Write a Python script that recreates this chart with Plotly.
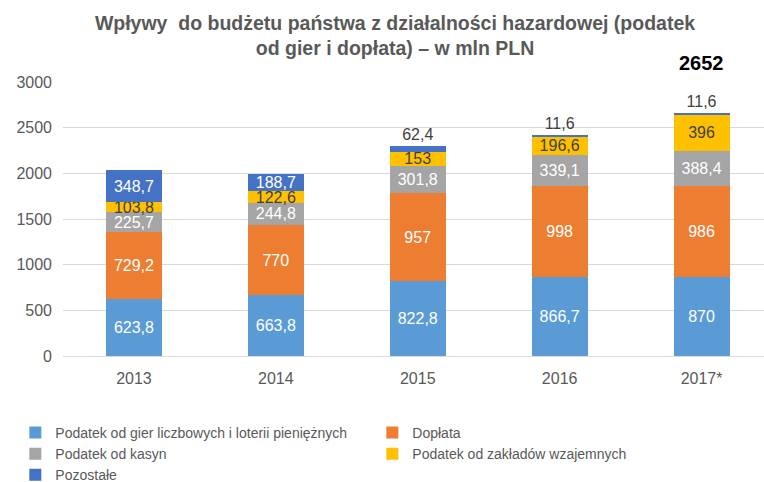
import plotly.graph_objects as go

years = ["2013", "2014", "2015", "2016", "2017*"]
gry_liczbowe = [623.8, 663.8, 822.8, 866.7, 870]
doplata = [729.2, 770, 957, 998, 986]
kasyna = [225.7, 244.8, 301.8, 339.1, 388.4]
zaklady = [103.8, 122.6, 153, 196.6, 396]
pozostale = [348.7, 188.7, 62.4, 11.6, 11.6]
totals = [2031, 1990, 2297, 2411, 2652]

series = [
    ("Podatek od gier liczbowych i loterii pieniężnych", gry_liczbowe, "#5B9BD5"),
    ("Dopłata", doplata, "#ED7D31"),
    ("Podatek od kasyn", kasyna, "#A5A5A5"),
    ("Podatek od zakładów wzajemnych", zaklady, "#FFC000"),
    ("Pozostałe", pozostale, "#4472C4"),
]

FONT = "Liberation Sans, Arial, sans-serif"
GRAY = "#595959"
DARK = "#404040"


def fmt(v):
    return f"{v:g}".replace(".", ",")


fig = go.Figure()
for name, vals, color in series:
    if name == "Pozostałe":
        pos = ["inside" if v > 100 else "outside" for v in vals]
        tcol = ["white" if v > 100 else DARK for v in vals]
    elif name == "Podatek od zakładów wzajemnych":
        pos = ["inside"] * len(vals)
        tcol = [DARK] * len(vals)
    else:
        pos = ["inside"] * len(vals)
        tcol = ["white"] * len(vals)
    fig.add_trace(go.Bar(
        x=years, y=vals, name=name, marker=dict(color=color, line=dict(width=0)),
        text=[fmt(v) for v in vals], textposition=pos, textangle=0,
        insidetextanchor="middle", constraintext="none", cliponaxis=False,
        textfont=dict(family=FONT, size=16, color=tcol),
        showlegend=False,
    ))
    # legend proxy with small square marker
    fig.add_trace(go.Scatter(
        x=[None], y=[None], mode="markers", name=name,
        marker=dict(symbol="square", size=8, color=color),
        showlegend=True,
    ))

# totals above bars
stack_tops = [sum(s[1][i] for s in series) for i in range(len(years))]
shifts = [15, 15, 41, 40, 51]
for i, (yr, tot) in enumerate(zip(years, totals)):
    fig.add_annotation(
        x=yr, y=stack_tops[i], text=f"<b>{tot}</b>", showarrow=False,
        yanchor="middle", yshift=shifts[i],
        font=dict(family=FONT, size=20, color="black"),
    )

fig.update_layout(
    barmode="stack",
    bargap=0.605,
    width=764, height=482,
    margin=dict(l=63, r=0, t=82, b=126, autoexpand=False),
    paper_bgcolor="white", plot_bgcolor="white",
    font=dict(family=FONT, color=GRAY),
    title=dict(
        text="<b>Wpływy  do budżetu państwa z działalności hazardowej (podatek<br>od gier i dopłata) – w mln PLN</b>",
        x=395 / 764, xanchor="center", xref="container",
        y=1 - 30 / 482, yanchor="top", yref="container",
        font=dict(family=FONT, size=19.5, color=GRAY),
    ),
    xaxis=dict(
        type="category", range=[-0.5, 4.44], showgrid=False,
        showline=True, linecolor="#D9D9D9", linewidth=1,
        ticks="", tickfont=dict(family=FONT, size=16, color=GRAY),
        ticklabelstandoff=8,
    ),
    yaxis=dict(
        range=[0, 3000], dtick=500, showgrid=True, gridcolor="#D9D9D9",
        zeroline=False, showline=False, ticks="",
        tickfont=dict(family=FONT, size=16, color=GRAY),
        ticklabelstandoff=10,
    ),
    legend=dict(
        orientation="h", x=-0.068, xanchor="left", y=-0.222, yanchor="top",
        entrywidth=312, font=dict(family=FONT, size=14, color=GRAY),
        traceorder="normal", tracegroupgap=0, itemsizing="constant",
        bgcolor="rgba(0,0,0,0)",
    ),
)

fig.write_html("out.html")
